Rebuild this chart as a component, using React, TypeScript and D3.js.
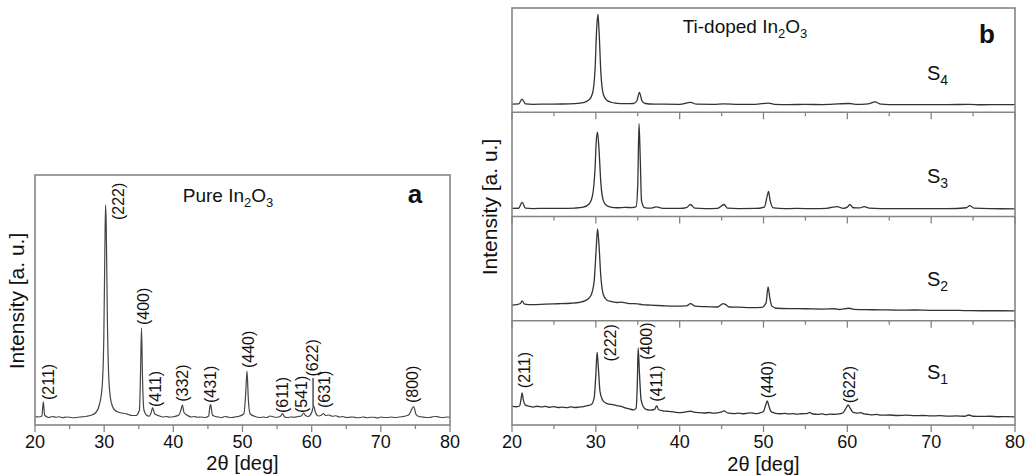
import React from 'react';
import * as d3 from 'd3';

// ---------- data ----------
const X_DOMAIN: [number, number] = [20, 80];
const X_MAJOR = [20, 30, 40, 50, 60, 70, 80];
const X_MINOR = [25, 35, 45, 55, 65, 75];

// Pure In2O3 (panel a) : [2θ, intensity a.u. 0..100]
const pureIn2O3: [number, number][] = [
  [20.0, 3.4], [20.5, 3.2], [21.0, 3.6], [21.2, 9.3], [21.4, 3.9], [22.0, 3.0], [22.5, 3.4], [23, 3.1], [23.5, 3.3], [24, 2.9],
  [24.5, 3.2], [25, 3.1], [25.5, 2.9], [26, 3.0], [26.5, 3.2], [27, 3.3], [27.5, 3.5], [28, 3.8], [28.8, 5], [29.3, 8],
  [29.7, 15], [29.95, 35], [30.1, 70], [30.2, 88], [30.3, 80], [30.45, 45], [30.65, 20], [30.9, 11], [31.2, 7.5], [31.6, 5.8],
  [32, 5.2], [32.5, 4.8], [33, 4.6], [33.5, 4.2], [34, 3.8], [34.6, 3.8], [35.1, 6], [35.25, 20], [35.4, 38.8], [35.55, 18],
  [35.75, 6], [36.1, 4], [36.5, 3.5], [36.85, 5.5], [37.0, 7], [37.3, 4.5], [38, 3.6], [38.5, 3.2], [39, 3.4], [39.5, 3.1], [40, 3.3],
  [40.8, 4], [41.15, 6.5], [41.3, 8], [41.55, 5], [42.2, 3.6], [42.6, 3.2], [43, 3.4], [43.5, 3.1], [44, 3.2], [44.6, 3.0], [45.1, 3.6],
  [45.3, 7.5], [45.4, 8.2], [45.65, 4], [46.2, 3.3], [46.5, 3.2], [47, 3.0], [47.5, 3.4], [48, 3.1], [48.5, 3], [49, 3.3], [49.5, 3.5],
  [50.2, 4.5], [50.45, 12], [50.65, 21.6], [50.85, 10], [51.1, 4.5], [51.8, 3.4], [52.5, 3.0], [53, 3.2], [53.5, 3.0], [54, 3.6],
  [54.5, 3.2], [55, 3.1], [55.5, 3.5], [55.8, 4.6], [56.1, 3.2], [56.5, 3.0], [57, 3.2], [57.5, 3.1], [58, 3.4], [58.5, 3.6],
  [58.85, 4.8], [59.1, 3.8], [59.5, 3.4], [60.0, 5], [60.3, 7.6], [60.55, 5], [61, 3.6], [61.4, 3.9], [61.7, 4.6], [62, 3.8], [62.5, 4.0],
  [63, 3.5], [63.5, 3.7], [64, 3.2], [64.5, 3.4], [65, 3.0], [65.5, 3.1], [66, 3.2], [66.5, 2.9], [67, 3.0], [67.5, 3.2], [68, 2.9],
  [68.5, 3.1], [69, 3.1], [69.5, 2.8], [70, 3.2], [70.5, 3.0], [71, 3.0], [71.5, 3.2], [72, 3.0], [72.5, 3.1], [73, 3.3], [73.6, 3.6],
  [74.1, 4.2], [74.5, 6.5], [74.75, 7.4], [75.1, 4.2], [75.5, 3.4], [76, 3.2], [76.5, 3.0], [77, 3.0], [77.5, 3.3], [78, 3.4],
  [78.5, 3.1], [79, 3.0], [79.5, 3.2], [80, 3.1],
];

// Ti-doped In2O3 (panel b) : [2θ, intensity a.u. 0..100 within each strip]
const sampleS1: [number, number][] = [
  [20, 18], [20.5, 17.5], [20.9, 18.2], [21.1, 26], [21.2, 30.8], [21.35, 24], [21.6, 19], [22, 18.2], [22.5, 17.2], [23, 18],
  [23.5, 17.4], [24, 17.9], [24.5, 17], [25, 17.6], [25.5, 16.8], [26, 17.2], [26.5, 16.6], [27, 17.3], [27.5, 16.8], [28, 17.2],
  [28.5, 17.6], [29, 18.5], [29.5, 20], [29.8, 26], [30.0, 48], [30.15, 70], [30.3, 55], [30.5, 32], [30.8, 24], [31.2, 21],
  [31.6, 20], [32, 19.6], [32.5, 18.6], [33, 17.8], [33.5, 16.4], [34, 15.4], [34.5, 14.6], [34.8, 16], [34.95, 40], [35.05, 74],
  [35.2, 50], [35.4, 24], [35.7, 17], [36.0, 15], [36.5, 14.2], [37.0, 15], [37.25, 18.3], [37.5, 14.6], [38, 13.6], [38.5, 13.2],
  [39, 12.8], [39.5, 12.2], [40, 11.8], [40.5, 12.2], [41, 12.8], [41.3, 13.2], [41.7, 12.3], [42.5, 11.8], [43, 11.5], [43.5, 12],
  [44, 11.3], [44.5, 11.6], [45, 12.5], [45.3, 13.6], [45.7, 11.6], [46.5, 11], [47, 11.4], [47.5, 10.8], [48, 11.2], [48.5, 11.6],
  [49, 11], [49.5, 11.5], [50, 13], [50.25, 19], [50.45, 23], [50.65, 18], [50.9, 13], [51.3, 11.5], [52, 10.8], [52.5, 11.2],
  [53, 10.6], [53.5, 10.9], [54, 10.4], [54.5, 10.8], [55.2, 11], [55.5, 12.2], [55.8, 10.8], [56.5, 10.2], [57, 10.6], [57.5, 10],
  [58, 10.4], [58.5, 10.2], [59, 10.6], [59.5, 11.8], [59.9, 17], [60.1, 19.2], [60.35, 16], [60.7, 12], [61.2, 11.4], [61.6, 11.8],
  [62, 10.6], [62.5, 10.2], [63, 9.8], [63.5, 10.1], [64, 9.5], [65, 9.6], [66, 9.1], [67, 9.4], [68, 9], [69, 9.1], [70, 8.7],
  [71, 8.9], [72, 8.5], [73, 8.7], [74, 8.4], [74.5, 9.6], [75, 8.4], [76, 8.2], [77, 8.4], [78, 7.9], [79, 8], [80, 7.8],
];

const sampleS2: [number, number][] = [
  [20, 15.0], [20.6, 15.5], [21.0, 16.5], [21.2, 19], [21.5, 16], [22.5, 15.5], [24, 16], [25.5, 16.3], [27, 16.8], [28, 17.5],
  [28.8, 19.5], [29.4, 24], [29.8, 38], [30.05, 70], [30.2, 88], [30.35, 76], [30.6, 42], [30.9, 25], [31.3, 20], [31.8, 18.5],
  [32.5, 17.5], [33, 17.8], [34, 16.5], [35, 16.2], [35.5, 15.5], [36.5, 15], [38, 14.4], [39.5, 14], [40.8, 14.2], [41.3, 16.5],
  [41.8, 14], [43, 13.5], [44.5, 13.2], [45.2, 16.5], [45.5, 15.5], [45.9, 13.2], [47, 13], [48.5, 12.6], [49.8, 12.8], [50.3, 17],
  [50.55, 32.5], [50.75, 22], [51.0, 14], [51.5, 12], [53, 11.6], [55, 11.5], [57, 11.2], [58.5, 11.5], [59, 10.8], [60.2, 12],
  [60.8, 11], [62, 10.6], [64, 10.5], [66, 10.2], [68, 10.3], [70, 10], [72, 10], [74, 9.8], [76, 9.6], [78, 9.6], [80, 9.5],
];

const sampleS3: [number, number][] = [
  [20, 7.7], [20.8, 7.9], [21.2, 13.5], [21.6, 8], [22.5, 7.6], [24, 7.8], [26, 7.7], [27.5, 8.1], [28.5, 9], [29.2, 12],
  [29.6, 20], [29.9, 45], [30.05, 72], [30.2, 81], [30.35, 68], [30.6, 32], [30.9, 15], [31.3, 10.5], [31.8, 9], [32.5, 8.4],
  [33.5, 8.8], [34.3, 8.5], [34.8, 9.5], [35.0, 30], [35.15, 89], [35.3, 55], [35.45, 15], [35.8, 8.5], [36.5, 8.0], [37.2, 9.2],
  [38, 7.8], [40, 7.7], [40.8, 8.5], [41.3, 11.5], [41.8, 8], [43, 7.6], [44.5, 7.8], [45.3, 11.5], [45.7, 8], [47, 7.6],
  [49, 7.7], [50.1, 9], [50.45, 20], [50.6, 24], [50.8, 15], [51.2, 8.2], [52.5, 7.6], [54, 7.7], [56, 7.6], [57.5, 7.8],
  [58.8, 9.5], [59.5, 7.8], [60.0, 9], [60.3, 11.5], [60.7, 8.4], [61.5, 8.2], [62, 9.5], [62.6, 8], [64, 7.6], [66, 7.5],
  [68, 7.6], [70, 7.5], [72, 7.5], [74.2, 8.4], [74.6, 10.5], [75.1, 8], [77, 7.5], [80, 7.4],
];

const sampleS4: [number, number][] = [
  [20, 7.8], [20.8, 8], [21.2, 12.5], [21.6, 8], [22.5, 7.6], [24, 7.8], [26, 7.9], [27.5, 8.3], [28.5, 9.3], [29.2, 12],
  [29.6, 18], [29.9, 40], [30.1, 80], [30.25, 94], [30.4, 75], [30.6, 38], [30.9, 17], [31.3, 11.5], [31.8, 9.6], [32.5, 8.6],
  [33.5, 8.2], [34.5, 8.4], [34.9, 11], [35.2, 19], [35.5, 11], [35.9, 8.4], [37, 7.8], [38, 7.7], [40, 7.6], [41.3, 9.5],
  [42, 7.7], [44, 7.6], [45.3, 8.1], [47, 7.5], [49, 7.6], [50.6, 8.8], [51.3, 7.6], [53, 7.4], [55, 7.5], [57, 7.4],
  [58, 7.6], [60.2, 8.4], [61, 7.5], [62.5, 8], [63.3, 10], [64, 7.8], [66, 7.3], [68, 7.4], [70, 7.3], [72, 7.3],
  [74.5, 7.6], [76, 7.2], [78, 7.3], [80, 7.3],
];

// strips from top to bottom
const SAMPLE_SERIES = [sampleS4, sampleS3, sampleS2, sampleS1];
const SAMPLE_INDEX = ['4', '3', '2', '1'];

// Miller-index labels: [text, 2θ, intensity at text start]
const pureLabels: [string, number, number][] = [
  ['(211)', 21.9, 10], ['(222)', 32.1, 82], ['(400)', 35.7, 40], ['(411)', 37.4, 7.2], ['(332)', 41.35, 9.3],
  ['(431)', 45.4, 8.8], ['(440)', 50.85, 22.8], ['(611)', 55.8, 4.8], ['(541)', 58.55, 4.8], ['(622)', 60.15, 19.4],
  ['(631)', 61.8, 6.8], ['(800)', 74.55, 8.8],
];
const pureLeader: [number, number, number] = [60.2, 18.8, 7.4];
const s1Labels: [string, number, number][] = [
  ['(211)', 21.5, 35.3], ['(222)', 31.7, 60.9], ['(400)', 36.07, 62.5], ['(411)', 37.27, 22.4],
  ['(440)', 50.45, 25.6], ['(622)', 60.2, 20.8],
];

// ---------- layout ----------
const W = 1031;
const H = 476;
const A = { left: 35, right: 450, top: 175, bottom: 425 };
const B = { left: 512, right: 1015, top: 8, bottom: 425 };
const FONT = "'Liberation Sans', Arial, Helvetica, sans-serif";
const FRAME = '#858585';
const TEXT = '#111';

function Ticks({ x, y }: { x: d3.ScaleLinear<number, number>; y: number }) {
  return (
    <g stroke={FRAME} strokeWidth={1.3}>
      {X_MAJOR.map((t) => (
        <line key={'M' + t} x1={x(t)} x2={x(t)} y1={y} y2={y + 7} />
      ))}
      {X_MINOR.map((t) => (
        <line key={'m' + t} x1={x(t)} x2={x(t)} y1={y} y2={y + 4} />
      ))}
    </g>
  );
}

function TickLabels({ x, y }: { x: d3.ScaleLinear<number, number>; y: number }) {
  return (
    <g fontSize={18} textAnchor="middle" fill={TEXT}>
      {X_MAJOR.map((t) => (
        <text key={t} x={x(t)} y={y}>
          {t}
        </text>
      ))}
    </g>
  );
}

function Rot({ x, y, text, size }: { x: number; y: number; text: string; size: number }) {
  return (
    <text transform={`translate(${x},${y}) rotate(-90)`} fontSize={size} dy="0.35em" fill={TEXT}>
      {text}
    </text>
  );
}

export default function App() {
  const xa = d3.scaleLinear().domain(X_DOMAIN).range([A.left, A.right]);
  const ya = d3.scaleLinear().domain([0, 100]).range([A.bottom, A.top]);
  const lineA = d3
    .line<[number, number]>()
    .x((d) => xa(d[0]))
    .y((d) => ya(d[1]))
    .curve(d3.curveMonotoneX);

  const xb = d3.scaleLinear().domain(X_DOMAIN).range([B.left, B.right]);
  const bandH = (B.bottom - B.top) / 4;
  const yb = (i: number) =>
    d3
      .scaleLinear()
      .domain([0, 100])
      .range([B.top + bandH * (i + 1), B.top + bandH * i]);

  const sLabelBase = [80, 183, 286, 379];

  return (
    <svg
      width={W}
      height={H}
      style={{ position: 'absolute', left: 0, top: 0, background: '#fff' }}
      fontFamily={FONT}
    >
      <rect x={0} y={0} width={W} height={H} fill="#fff" />

      {/* ---------- panel a ---------- */}
      <path d={lineA(pureIn2O3) || ''} fill="none" stroke="#444" strokeWidth={1.2} />
      <rect x={A.left} y={A.top} width={A.right - A.left} height={A.bottom - A.top} fill="none" stroke={FRAME} strokeWidth={1.6} />
      <Ticks x={xa} y={A.bottom} />
      <TickLabels x={xa} y={448} />
      <text x={(A.left + A.right) / 2} y={470} textAnchor="middle" fontSize={20} fill={TEXT}>
        2θ [deg]
      </text>
      <text transform={`translate(17,301) rotate(-90)`} textAnchor="middle" fontSize={21} dy="0.35em" fill={TEXT}>
        Intensity [a. u.]
      </text>
      <text x={228} y={202} textAnchor="middle" fontSize={19} fill={TEXT}>
        Pure In<tspan dy={5} fontSize={13}>2</tspan>
        <tspan dy={-5}>O</tspan>
        <tspan dy={5} fontSize={13}>3</tspan>
      </text>
      <text x={415} y={203} textAnchor="middle" fontSize={26} fontWeight="bold" fill={TEXT}>
        a
      </text>
      {pureLabels.map(([t, x, v]) => (
        <Rot key={t} x={xa(x)} y={ya(v)} text={t} size={16} />
      ))}
      <line
        x1={xa(pureLeader[0])}
        x2={xa(pureLeader[0])}
        y1={ya(pureLeader[1])}
        y2={ya(pureLeader[2])}
        stroke="#222"
        strokeWidth={1.2}
      />

      {/* ---------- panel b ---------- */}
      {SAMPLE_SERIES.map((s, i) => {
        const y = yb(i);
        const ln = d3
          .line<[number, number]>()
          .x((d) => xb(d[0]))
          .y((d) => y(d[1]))
          .curve(d3.curveMonotoneX);
        return <path key={i} d={ln(s) || ''} fill="none" stroke="#333" strokeWidth={1.3} />;
      })}
      <rect x={B.left} y={B.top} width={B.right - B.left} height={B.bottom - B.top} fill="none" stroke={FRAME} strokeWidth={1.6} />
      {[1, 2, 3].map((i) => (
        <line key={i} x1={B.left} x2={B.right} y1={B.top + bandH * i} y2={B.top + bandH * i} stroke={FRAME} strokeWidth={1.6} />
      ))}
      {[1, 2, 3, 4].map((i) => (
        <Ticks key={i} x={xb} y={B.top + bandH * i} />
      ))}
      <TickLabels x={xb} y={448} />
      <text x={(B.left + B.right) / 2} y={471} textAnchor="middle" fontSize={20} fill={TEXT}>
        2θ [deg]
      </text>
      <text transform={`translate(490,207) rotate(-90)`} textAnchor="middle" fontSize={21} dy="0.35em" fill={TEXT}>
        Intensity [a. u.]
      </text>
      <text x={745} y={33} textAnchor="middle" fontSize={19} fill={TEXT}>
        Ti-doped In<tspan dy={5} fontSize={13}>2</tspan>
        <tspan dy={-5}>O</tspan>
        <tspan dy={5} fontSize={13}>3</tspan>
      </text>
      <text x={987} y={43} textAnchor="middle" fontSize={26} fontWeight="bold" fill={TEXT}>
        b
      </text>
      {SAMPLE_INDEX.map((n, i) => (
        <text key={n} x={927} y={sLabelBase[i]} fontSize={20} fill={TEXT}>
          S<tspan dy={5} fontSize={14}>{n}</tspan>
        </text>
      ))}
      {s1Labels.map(([t, x, v]) => (
        <Rot key={t} x={xb(x)} y={yb(3)(v)} text={t} size={16} />
      ))}
    </svg>
  );
}
